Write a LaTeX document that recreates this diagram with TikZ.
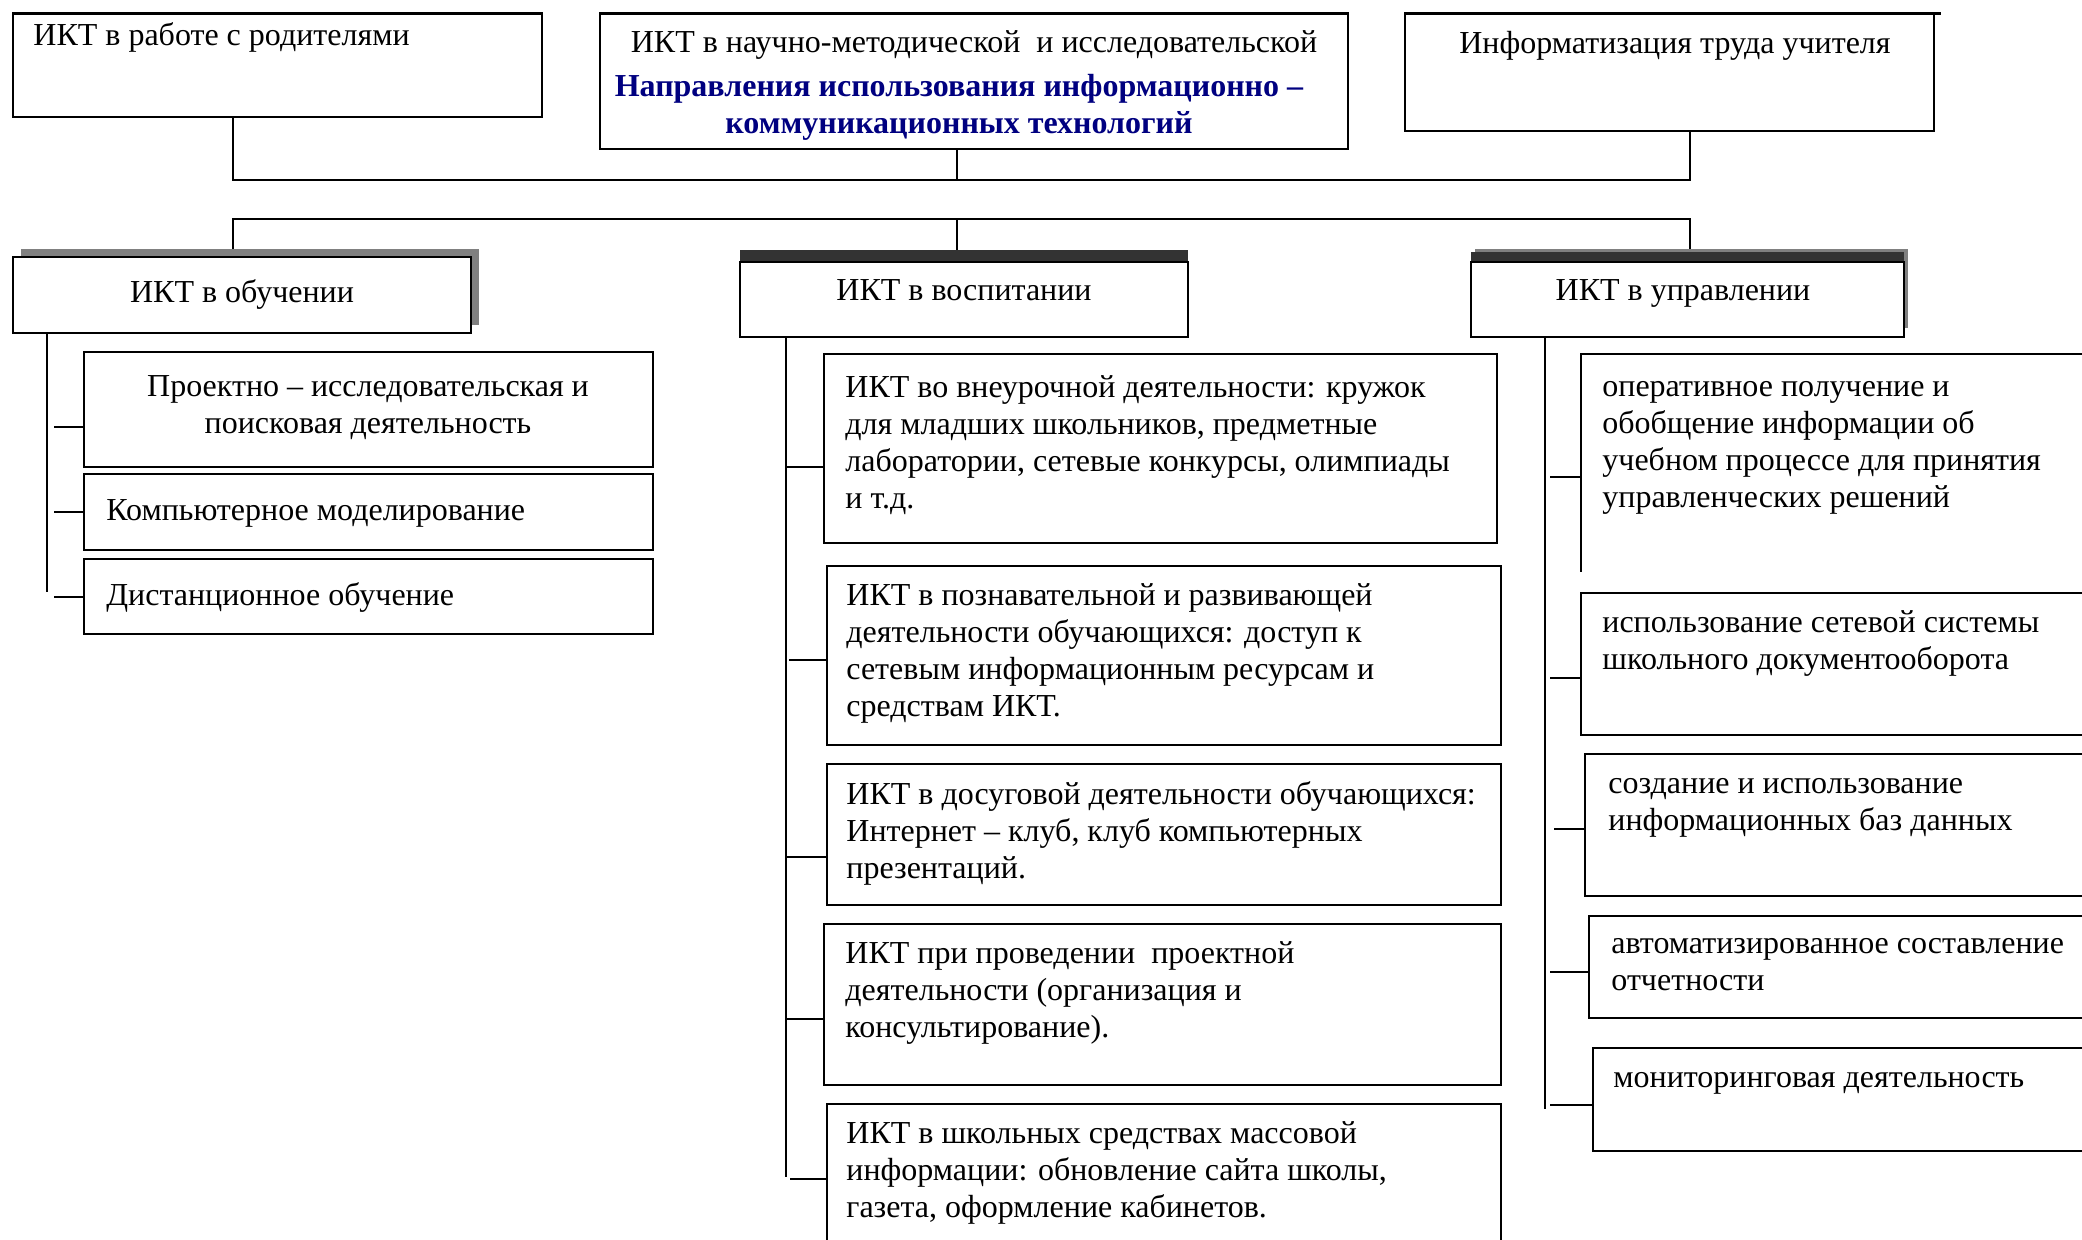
\documentclass[tikz,border=0pt]{standalone}
\usepackage{fontspec}
\setmainfont{Liberation Serif}
\usepackage{xcolor}
\usepackage{tikz}
\definecolor{headblue}{RGB}{0,0,128}
\definecolor{shadegray}{RGB}{128,128,128}
\definecolor{banddark}{RGB}{51,51,51}

\begin{document}
\begin{tikzpicture}[x=0.5pt,y=-0.5pt,
  box/.style={draw,line width=1pt,rectangle,inner sep=0pt,outer sep=0pt,anchor=north west},
  shade/.style={fill=shadegray,rectangle,inner sep=0pt,outer sep=0pt,anchor=north west},
  band/.style={fill=banddark,rectangle,inner sep=0pt,outer sep=0pt,anchor=north west},
  txt/.style={inner sep=0pt,align=left,anchor=base west,font=\fontsize{16}{18.5}\selectfont},
  ctxt/.style={txt,align=center,anchor=base},
  link/.style={line width=0.75pt}]
\path[use as bounding box,clip] (0,0) rectangle (2082,1239);
\node [box,minimum width=264.5pt,minimum height=52pt] (parents) at (13,13) {};
\node [box,minimum width=374pt,minimum height=68pt] (center) at (600,13) {};
\node [box,minimum width=264.5pt,minimum height=59pt] (teacher) at (1405,13) {};
\draw [line width=1.5pt] (parents.north west) -- (parents.north east);
\draw [line width=1.5pt] (center.north west) -- (center.north east);
\draw [line width=1.5pt] (teacher.north west) -- ([xshift=3.5pt]teacher.north east);
\node [txt] (parentstxt) at (33,45) {ИКТ в работе с родителями};
\node [ctxt] (centertxt) at (974,133) {ИКТ в научно-методической\ \ и исследовательской\\[3.5pt]
  \textcolor{headblue}{\bfseries Направления использования информационно –}\hspace*{15pt}\mbox{}\\
  \textcolor{headblue}{\bfseries коммуникационных технологий}\hspace*{15pt}};
\node [ctxt] (teachertxt) at (1675,53) {Информатизация труда учителя};

\node [shade,minimum width=229pt,minimum height=38pt] (teachsh) at (21,249) {};
\node [box,fill=white,minimum width=229pt,minimum height=38pt] (teach) at (13,257) {};
\node [band,minimum width=224pt,minimum height=6pt] (upbrsh) at (740,250) {};
\node [box,fill=white,minimum width=224pt,minimum height=37.5pt] (upbr) at (740,262) {};
\node [shade,minimum width=216.5pt,minimum height=39.5pt] (managesh) at (1475,249) {};
\node [band,minimum width=216.5pt,minimum height=5pt] (manageband) at (1471,252) {};
\node [box,fill=white,minimum width=216.5pt,minimum height=37.5pt] (manage) at (1471,262) {};
\node [ctxt] (teachtxt) at (242,302) {ИКТ в обучении};
\node [ctxt] (upbrtxt) at (964,300) {ИКТ в воспитании};
\node [ctxt] (managetxt) at (1683,300) {ИКТ в управлении};

\coordinate (bus1w) at (233,180);
\coordinate (bus1m) at (957,180);
\coordinate (bus1e) at (1690,180);
\coordinate (bus2w) at (233,219);
\coordinate (bus2m) at (957,219);
\coordinate (bus2e) at (1690,219);
\draw [link] (parents.south -| bus1w) -- (bus1w) -- (bus1e) -- (bus1e |- teacher.south);
\draw [link] (bus1m |- center.south) -- (bus1m);
\draw [link] (bus2w |- teachsh.north) -- (bus2w) -- (bus2e) -- (bus2e |- managesh.north);
\draw [link] (bus2m) -- (bus2m |- upbrsh.north);

\node [box,minimum width=284.5pt,minimum height=57.5pt] (p1) at (84,352) {};
\node [box,minimum width=284.5pt,minimum height=38pt] (p2) at (84,474) {};
\node [box,minimum width=284.5pt,minimum height=37.5pt] (p3) at (84,559) {};
\node [ctxt] (p1txt) at (368,433) {Проектно – исследовательская и\\поисковая деятельность};
\node [txt] (p2txt) at (106,520) {Компьютерное моделирование};
\node [txt] (p3txt) at (106,605) {Дистанционное обучение};

\node [box,minimum width=336.5pt,minimum height=94.5pt] (m1) at (824,354) {};
\node [box,minimum width=337pt,minimum height=89.5pt] (m2) at (827,566) {};
\node [box,minimum width=337pt,minimum height=70.5pt] (m3) at (827,764) {};
\node [box,minimum width=338.5pt,minimum height=80.5pt] (m4) at (824,924) {};
\node [box,minimum width=337pt,minimum height=80pt] (m5) at (827,1104) {};
\node [txt] (m1txt) at (845,508) {ИКТ во внеурочной деятельности: кружок\\для младших школьников, предметные\\лаборатории, сетевые конкурсы, олимпиады\\и т.д.};
\node [txt] (m2txt) at (846,716) {ИКТ в познавательной и развивающей\\деятельности обучающихся: доступ к\\сетевым информационным ресурсам и\\средствам ИКТ.};
\node [txt] (m3txt) at (846,878) {ИКТ в досуговой деятельности обучающихся:\\Интернет – клуб, клуб компьютерных\\презентаций.};
\node [txt] (m4txt) at (845,1037) {ИКТ при проведении\ \ проектной\\деятельности (организация и\\консультирование).};
\node [txt] (m5txt) at (846,1217) {ИКТ в школьных средствах массовой\\информации: обновление сайта школы,\\газета, оформление кабинетов.};

\node [box,draw=none,minimum width=300pt,minimum height=109pt] (r1) at (1581,354) {};
\draw [line width=1pt] (r1.north east) -- (r1.north west) -- (r1.south west);
\node [box,minimum width=300pt,minimum height=71pt] (r2) at (1581,593) {};
\node [box,minimum width=300pt,minimum height=71pt] (r3) at (1585,754) {};
\node [box,minimum width=300pt,minimum height=51pt] (r4) at (1589,916) {};
\node [box,minimum width=300pt,minimum height=51.5pt] (r5) at (1593,1048) {};
\node [txt] (r1txt) at (1602,507) {оперативное получение и\\обобщение информации об\\учебном процессе для принятия\\управленческих решений};
\node [txt] (r2txt) at (1602,669) {использование сетевой системы\\школьного документооборота};
\node [txt] (r3txt) at (1608,830) {создание и использование\\информационных баз данных};
\node [txt] (r4txt) at (1611,990) {автоматизированное составление\\отчетности};
\node [txt] (r5txt) at (1613,1087) {мониторинговая деятельность};

\coordinate (teachend) at (47,592);
\coordinate (upbrend) at (786,1177);
\coordinate (manageend) at (1545,1109);
\draw [link] (teachend |- teach.south) -- (teachend);
\draw [link] (upbrend |- upbr.south) -- (upbrend);
\draw [link] (manageend |- manage.south) -- (manageend);
\foreach \b/\y/\l in {p1/427/30,p2/512/30,p3/597/30,m1/467/38,m2/660/38,m3/857/41,m4/1019/38,m5/1179/37,r1/477/31,r2/678/31,r3/829/31,r4/972/39,r5/1105/43}
  \draw [link] (\b.west |- 0,\y) -- ++(-\l,0);
\end{tikzpicture}
\end{document}
